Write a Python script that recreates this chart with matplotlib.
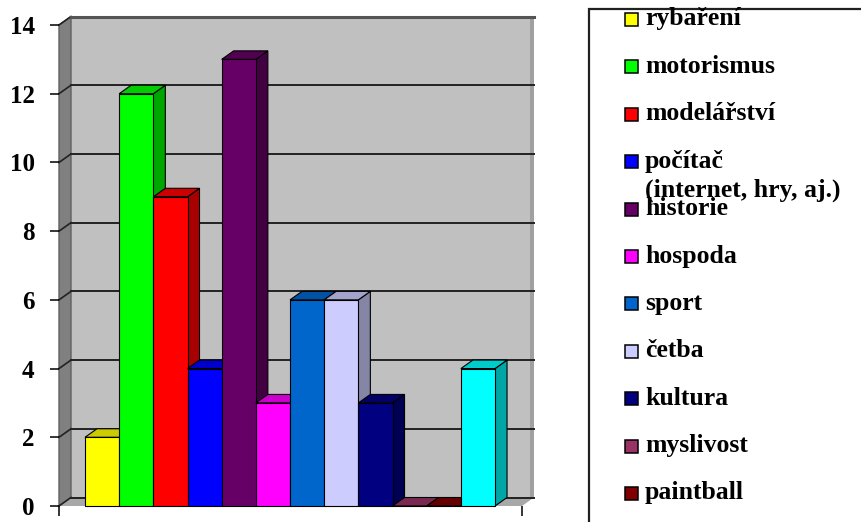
import matplotlib
matplotlib.use("Agg")
import matplotlib.pyplot as plt
from matplotlib.patches import Polygon, Rectangle
from matplotlib.colors import to_rgb

plt.rcParams["font.family"] = ["Liberation Serif", "DejaVu Serif"]
plt.rcParams["font.weight"] = "bold"

labels = ["rybaření", "motorismus", "modelářství", "počítač\n(internet, hry, aj.)",
          "historie", "hospoda", "sport", "četba", "kultura", "myslivost", "paintball"]
values = [2, 12, 9, 4, 13, 3, 6, 6, 3, 0, 0, 4]
colors = ["#ffff00", "#00ff00", "#ff0000", "#0000ff", "#660066", "#ff00ff",
          "#0066cc", "#ccccff", "#000080", "#993366", "#800000", "#00ffff"]
yticks = [0, 2, 4, 6, 8, 10, 12, 14]


def shade(c, f):
    r, g, b = to_rgb(c)
    return (r * f, g * f, b * f)


W, H = 862, 522
fig = plt.figure(figsize=(W / 100, H / 100), dpi=100)

# pixel geometry of the front plane
bar_px = 34.17
x0_px = 85
xl = (59 - x0_px) / bar_px
xr = (522 - x0_px) / bar_px
ymax = 14
dx = 12 / bar_px
dy = 8.5 / ((506 - 25) / ymax)

ax = fig.add_axes([59 / W, (H - 506) / H, (522 - 59) / W, (506 - 25) / H])
ax.set_xlim(xl, xr)
ax.set_ylim(0, ymax)
for s in ax.spines.values():
    s.set_visible(False)
ax.patch.set_visible(False)

# walls and floor
ax.add_patch(Rectangle((xl + dx, dy), xr - xl, ymax, fc="#c0c0c0", ec="none",
                       zorder=0, clip_on=False))
ax.add_patch(Rectangle((xr + dx - 0.12, dy), 0.12, ymax, fc="#a0a0a0", ec="none",
                       zorder=0.5, clip_on=False))
ax.add_patch(Polygon([(xl, 0), (xl, ymax), (xl + dx, ymax + dy), (xl + dx, dy)],
                     fc="#808080", ec="#606060", lw=1, zorder=1, clip_on=False))
ax.add_patch(Polygon([(xl, 0), (xr, 0), (xr + dx, dy), (xl + dx, dy)],
                     fc="#a8a8a8", ec="none", zorder=1, clip_on=False))
ax.plot([xl + dx, xr + dx], [ymax + dy, ymax + dy], color="#555555", lw=2.2,
        zorder=1.6, clip_on=False)
for v in yticks:
    ax.plot([xl + dx, xr + dx], [v + dy, v + dy], color="#222222", lw=1.4,
            zorder=1.5, clip_on=False)
    ax.plot([xl, xl + dx], [v, v + dy], color="#222222", lw=1.2,
            zorder=1.5, clip_on=False)

# 3d bars
for i, (v, c) in enumerate(zip(values, colors)):
    z = 3 + i * 0.1
    ax.add_patch(Polygon([(i + 1, 0), (i + 1 + dx, dy), (i + 1 + dx, v + dy), (i + 1, v)],
                         fc=shade(c, 0.65), ec="black", lw=0.8, zorder=z, clip_on=False))
    ax.add_patch(Polygon([(i, v), (i + 1, v), (i + 1 + dx, v + dy), (i + dx, v + dy)],
                         fc=shade(c, 0.8), ec="black", lw=0.8, zorder=z, clip_on=False))
    ax.add_patch(Rectangle((i, 0), 1, v, fc=c, ec="black", lw=0.8, zorder=z,
                           clip_on=False))

ax.set_yticks(yticks)
ax.set_yticklabels([str(t) for t in yticks], fontsize=18, fontweight="bold")
ax.set_xticks([xl, xr])
ax.set_xticklabels(["", ""])
ax.tick_params(axis="y", direction="out", length=6.5, width=1.1, pad=11, color="black")
ax.tick_params(axis="x", direction="out", length=7.5, width=1.1, color="black")

# legend drawn in pixel space
lax = fig.add_axes([0, 0, 1, 1])
lax.set_xlim(0, W)
lax.set_ylim(H, 0)
lax.axis("off")
lax.add_patch(Rectangle((589, 9), 400, 600, fc="white", ec="#202020", lw=1.6))
row0, step = 19.5, 47.4
for k, (lab, c) in enumerate(zip(labels, colors)):
    yc = row0 + step * k
    lax.add_patch(Rectangle((625, yc - 6.5), 13, 13, fc=c, ec="black", lw=1.1))
    for j, line in enumerate(lab.split("\n")):
        lax.text(645, yc + 6 + 29 * j, line, fontsize=18.5, fontweight="bold",
                 va="baseline", ha="left")

fig.savefig("out.png", dpi=100)
